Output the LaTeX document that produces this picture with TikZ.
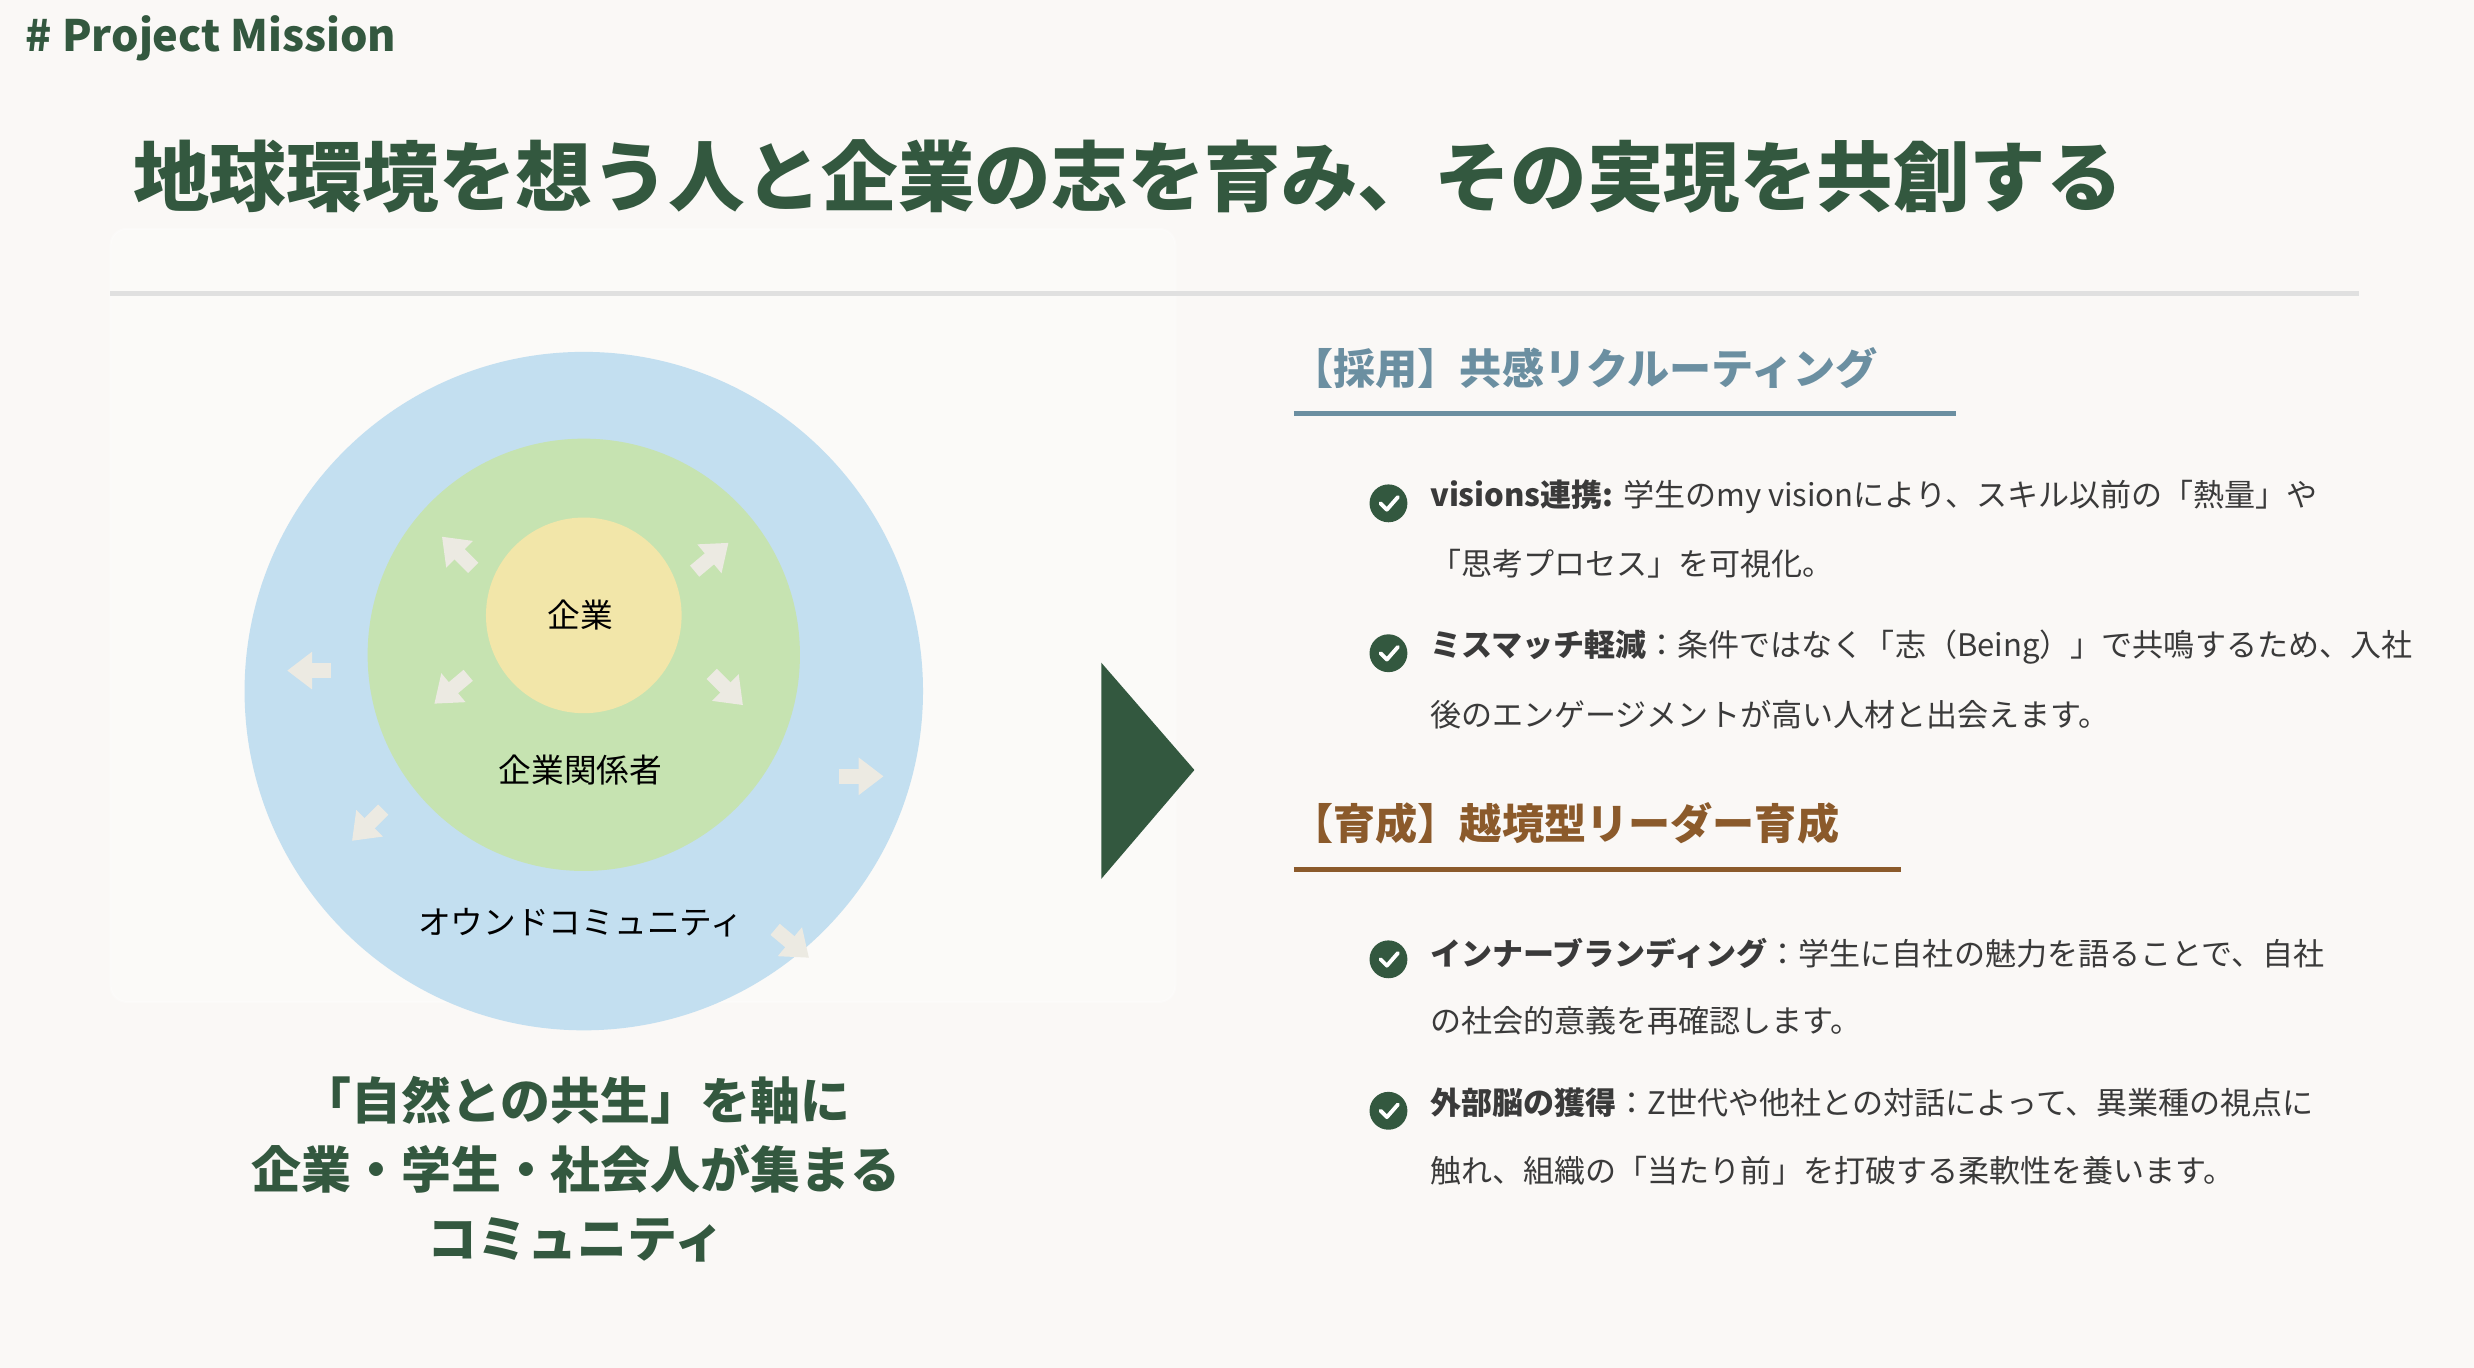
\documentclass[tikz,border=0pt]{standalone}
\usepackage{fontspec}
\setmainfont{Noto Sans CJK JP}
\usetikzlibrary{arrows.meta,positioning}
\definecolor{bgc}{HTML}{FAF8F6}
\definecolor{deepgreen}{HTML}{33583F}
\definecolor{skyc}{HTML}{C3DFF0}
\definecolor{leafc}{HTML}{C6E3B1}
\definecolor{sunc}{HTML}{F2E6A9}
\definecolor{flowc}{HTML}{ECEAE2}
\definecolor{recruitc}{HTML}{6B8FA1}
\definecolor{growc}{HTML}{8B5A2B}
\definecolor{bodyc}{HTML}{3A3A3A}
\tikzset{
  ringlabel/.style={font=\fontsize{5.9}{7}\selectfont, text=black},
  flow/.style={line width=2.6pt, draw=flowc, -{Triangle[width=6.5pt,length=4.5pt]}},
  head/.style={anchor=west, font=\bfseries\fontsize{7.6}{9}\selectfont},
  item/.style={anchor=west, text=bodyc, font=\fontsize{5.6}{7}\selectfont},
  tick/.style={circle, fill=deepgreen, minimum size=2.4mm, inner sep=0pt}
}
\begin{document}
\begin{tikzpicture}[x=0.1mm,y=-0.1mm]
  \useasboundingbox[fill=bgc] (0,0) rectangle (1568,867);

  \node[anchor=west, text=deepgreen, font=\bfseries\fontsize{7.8}{9}\selectfont] (tag) at (4,24) {\# Project Mission};
  \node[anchor=west, text=deepgreen, font=\bfseries\fontsize{13.8}{16}\selectfont] (title) at (72,112)
    {地球環境を想う人と企業の志を育み、その実現を共創する};
  \draw[white, fill=white, opacity=0.3, rounded corners=3] (70,145) rectangle (745,635);
  \draw[black!12, line width=0.8pt] (70,186) -- (1495,186);

  % rings
  \fill[skyc] (370,438) circle (215);
  \fill[leafc] (370,415) circle (137);
  \fill[sunc] (370,390) circle (62);
  \node[ringlabel] (core) at (368,390) {企業};
  \node[ringlabel] (stake) at (368,488) {企業関係者};
  \node[ringlabel] (owned) at (368,585) {オウンドコミュニティ};

  \foreach \x/\y/\a in {290/350/-135, 451/353/-40, 196/425/180, 286/437/-220,
                        461/437/45, 546/492/0, 233/523/-225, 502/598/40}
    \draw[flow] (\x,\y) ++(\a+180:14) -- ++(\a:28);

  \fill[deepgreen] (698,420) -- (757,488) -- (698,557) -- cycle;

  \node[align=center, text=deepgreen, font=\bfseries\fontsize{9}{12.4}\selectfont] (motto) at (365,741)
    {「自然との共生」を軸に\\企業・学生・社会人が集まる\\コミュニティ};

  % recruiting
  \node[head, text=recruitc] (rec) at (806,233) {【採用】共感リクルーティング};
  \draw[recruitc, line width=0.8pt] (820,262) -- (1240,262);
  % growth
  \node[head, text=growc] (grow) at (806,522) {【育成】越境型リーダー育成};
  \draw[growc, line width=0.8pt] (820,551) -- (1205,551);

  \foreach \n/\y in {c1/319, c2/414, c3/608, c4/704} {
    \node[tick] (\n) at (880,\y) {};
    \draw[white, line width=0.7pt, line cap=round, line join=round]
      (\n.center) ++(-5,0) -- ++(4,4) -- ++(7,-8);
  }

  \node[item] (t1) at (894,315) {\textbf{visions連携:} 学生のmy visionにより、スキル以前の「熱量」や};
  \node[item] (t1b) at (894,357) {「思考プロセス」を可視化。};
  \node[item] (t2) at (894,410) {\textbf{ミスマッチ軽減}：条件ではなく「志（Being）」で共鳴するため、入社};
  \node[item] (t2b) at (894,453) {後のエンゲージメントが高い人材と出会えます。};
  \node[item] (t3) at (894,604) {\textbf{インナーブランディング}：学生に自社の魅力を語ることで、自社};
  \node[item] (t3b) at (894,647) {の社会的意義を再確認します。};
  \node[item] (t4) at (894,699) {\textbf{外部脳の獲得}：Z世代や他社との対話によって、異業種の視点に};
  \node[item] (t4b) at (894,742) {触れ、組織の「当たり前」を打破する柔軟性を養います。};
\end{tikzpicture}
\end{document}
